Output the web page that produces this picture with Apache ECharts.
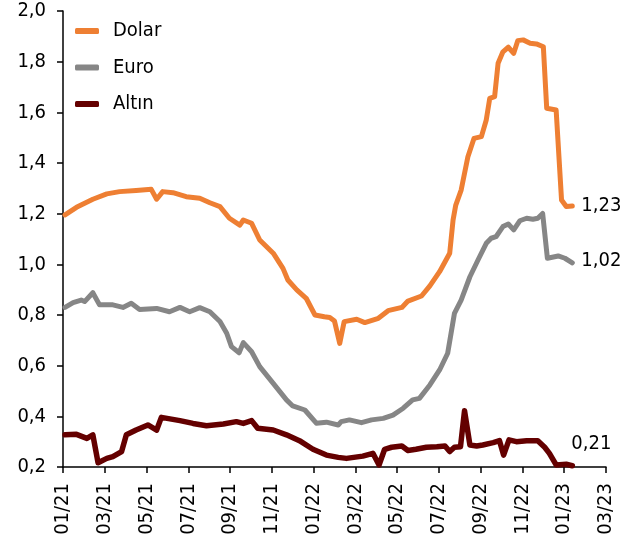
<!DOCTYPE html>
<html>
<head>
<meta charset="utf-8">
<script src="https://cdn.jsdelivr.net/npm/echarts@6/dist/echarts.min.js"></script>
<style>html,body{margin:0;padding:0;background:#fff}#c{width:638px;height:546px}</style>
</head>
<body>
<div id="c"></div>
<script>
const seriesNames = ['Dolar', 'Euro', 'Altın'];
const endLabels = ['1,23', '1,02', '0,21'];

const dolarDates = ['2021-01-04','2021-01-21','2021-02-13','2021-03-04','2021-03-23','2021-04-16','2021-05-08','2021-05-16','2021-05-25','2021-06-09','2021-06-28','2021-07-18','2021-08-02','2021-08-17','2021-08-31','2021-09-15','2021-09-20','2021-10-02','2021-10-14','2021-11-03','2021-11-17','2021-11-24','2021-12-07','2021-12-21','2022-01-03','2022-01-17','2022-01-25','2022-02-01','2022-02-08','2022-02-14','2022-03-03','2022-03-15','2022-04-04','2022-04-18','2022-05-08','2022-05-17','2022-06-06','2022-06-18','2022-07-02','2022-07-17','2022-07-22','2022-07-26','2022-08-03','2022-08-13','2022-08-22','2022-09-02','2022-09-09','2022-09-14','2022-09-21','2022-09-26','2022-10-03','2022-10-11','2022-10-19','2022-10-25','2022-11-02','2022-11-12','2022-11-21','2022-12-01','2022-12-06','2022-12-20','2022-12-28','2023-01-04','2023-01-13'];
const dolarValues = [1.195,1.225,1.257,1.278,1.287,1.291,1.296,1.257,1.287,1.283,1.267,1.261,1.243,1.228,1.182,1.155,1.175,1.162,1.096,1.044,0.984,0.938,0.899,0.866,0.800,0.793,0.790,0.776,0.688,0.774,0.783,0.770,0.787,0.817,0.830,0.855,0.875,0.915,0.971,1.044,1.175,1.234,1.293,1.425,1.497,1.504,1.570,1.655,1.662,1.794,1.839,1.857,1.833,1.883,1.886,1.873,1.870,1.859,1.616,1.609,1.254,1.228,1.23];

const euroDates = ['2021-01-04','2021-01-16','2021-01-28','2021-02-02','2021-02-13','2021-02-22','2021-03-13','2021-03-28','2021-04-09','2021-04-21','2021-05-16','2021-06-04','2021-06-19','2021-07-03','2021-07-18','2021-08-02','2021-08-17','2021-08-27','2021-09-03','2021-09-14','2021-09-20','2021-10-02','2021-10-14','2021-11-03','2021-11-22','2021-12-01','2021-12-19','2022-01-05','2022-01-20','2022-02-06','2022-02-10','2022-02-21','2022-03-10','2022-03-25','2022-04-11','2022-04-25','2022-05-10','2022-05-24','2022-06-03','2022-06-18','2022-07-02','2022-07-14','2022-07-24','2022-08-03','2022-08-16','2022-08-28','2022-09-09','2022-09-16','2022-09-23','2022-10-03','2022-10-11','2022-10-19','2022-10-28','2022-11-07','2022-11-16','2022-11-23','2022-11-30','2022-12-07','2022-12-23','2023-01-02','2023-01-13'];
const euroValues = [0.830,0.849,0.859,0.853,0.888,0.840,0.840,0.830,0.846,0.822,0.826,0.813,0.830,0.813,0.829,0.813,0.774,0.728,0.675,0.651,0.691,0.655,0.596,0.530,0.465,0.441,0.425,0.373,0.377,0.366,0.379,0.386,0.375,0.386,0.392,0.405,0.432,0.465,0.471,0.524,0.583,0.649,0.806,0.859,0.951,1.017,1.083,1.103,1.109,1.149,1.159,1.136,1.172,1.182,1.178,1.182,1.201,1.024,1.033,1.024,1.006];

const altinDates = ['2021-01-04','2021-01-21','2021-02-05','2021-02-13','2021-02-20','2021-03-04','2021-03-13','2021-03-26','2021-04-02','2021-04-16','2021-05-03','2021-05-16','2021-05-23','2021-06-19','2021-07-08','2021-07-28','2021-08-22','2021-09-10','2021-09-20','2021-10-02','2021-10-11','2021-11-03','2021-11-22','2021-12-11','2021-12-31','2022-01-20','2022-02-06','2022-02-17','2022-03-12','2022-03-27','2022-04-05','2022-04-13','2022-04-23','2022-05-08','2022-05-17','2022-05-29','2022-06-13','2022-06-28','2022-07-10','2022-07-17','2022-07-24','2022-08-02','2022-08-08','2022-08-16','2022-08-26','2022-09-04','2022-09-19','2022-09-28','2022-10-04','2022-10-12','2022-10-23','2022-11-07','2022-11-23','2022-12-03','2022-12-10','2022-12-20','2023-01-04','2023-01-13'];
const altinValues = [0.327,0.329,0.313,0.327,0.217,0.234,0.241,0.261,0.327,0.346,0.366,0.346,0.396,0.383,0.372,0.363,0.370,0.379,0.372,0.383,0.353,0.346,0.327,0.304,0.270,0.247,0.238,0.234,0.243,0.254,0.208,0.270,0.278,0.283,0.265,0.270,0.278,0.280,0.283,0.261,0.278,0.280,0.422,0.287,0.283,0.287,0.296,0.304,0.247,0.307,0.300,0.304,0.304,0.278,0.254,0.208,0.211,0.205];

const colors = ['#EE7F33', '#868686', '#640000'];
const FONT = '"DejaVu Sans Condensed", "DejaVu Sans", sans-serif';
const FS = 20;

function toMonth(s) {
  const [y, m, d] = s.split('-').map(Number);
  const dim = new Date(y, m, 0).getDate();
  return (y - 2021) * 12 + (m - 1) + (d - 1) / dim;
}
function pairs(dates, vals) { return dates.map((d, i) => [toMonth(d), vals[i]]); }
function monthLabel(v) {
  const idx = Math.round(v);
  const mo = (idx % 12) + 1;
  const yr = 21 + Math.floor(idx / 12);
  return (mo < 10 ? '0' + mo : '' + mo) + '/' + yr;
}

const datasets = [pairs(dolarDates, dolarValues), pairs(euroDates, euroValues), pairs(altinDates, altinValues)];
const labelOffsets = [[0, 0], [0, -2], [-10, -22]];

const chart = echarts.init(document.getElementById('c'), null, { renderer: 'canvas' });
chart.setOption({
  animation: false,
  textStyle: { fontFamily: FONT },
  grid: { left: 63, right: 32, top: 11, bottom: 79, containLabel: false },
  legend: {
    left: 70, top: 16, orient: 'vertical', itemGap: 16.5,
    itemWidth: 24, itemHeight: 6, icon: 'roundRect', selectedMode: false,
    data: seriesNames,
    textStyle: { fontFamily: FONT, fontSize: FS, lineHeight: 20, color: '#000', padding: [0, 0, 0, 9] }
  },
  xAxis: {
    type: 'value', min: 0, max: 26, interval: 2,
    splitLine: { show: false },
    axisLine: { show: true, lineStyle: { color: '#000', width: 1.5 } },
    axisTick: { show: true, inside: false, length: 6, lineStyle: { color: '#000', width: 1.5 } },
    axisLabel: { rotate: 90, margin: 16, fontSize: FS, color: '#000', fontFamily: FONT, formatter: monthLabel }
  },
  yAxis: {
    type: 'value', min: 0.2, max: 2.0, interval: 0.2,
    splitLine: { show: false },
    axisLine: { show: true, lineStyle: { color: '#000', width: 1.5 } },
    axisTick: { show: true, inside: false, length: 6, lineStyle: { color: '#000', width: 1.5 } },
    axisLabel: { margin: 17, fontSize: FS, color: '#000', fontFamily: FONT, formatter: v => v.toFixed(1).replace('.', ',') }
  },
  series: seriesNames.map((n, i) => ({
    name: n, type: 'line', data: datasets[i], showSymbol: false, symbol: 'none',
    color: colors[i],
    lineStyle: { width: i === 2 ? 5.5 : 5, color: colors[i], cap: 'round', join: 'round' },
    endLabel: {
      show: true, formatter: () => endLabels[i], distance: 9, offset: labelOffsets[i],
      fontSize: FS, color: '#000', fontFamily: FONT
    },
    z: 3 - i
  }))
});
</script>
</body>
</html>
